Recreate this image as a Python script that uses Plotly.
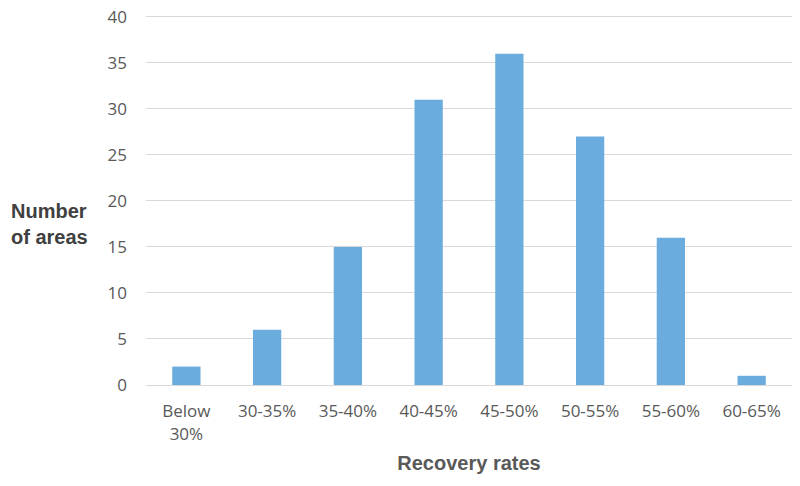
import plotly.graph_objects as go

categories = ["Below<br>30%", "30-35%", "35-40%", "40-45%", "45-50%", "50-55%", "55-60%", "60-65%"]
values = [2, 6, 15, 31, 36, 27, 16, 1]
y_ticks = [0, 5, 10, 15, 20, 25, 30, 35, 40]

fig = go.Figure(go.Bar(x=categories, y=values, marker=dict(color="#6aacdd", line=dict(width=0))))

fig.update_layout(
    width=800, height=486,
    margin=dict(l=138, r=16, t=7, b=109, autoexpand=False),
    plot_bgcolor="white", paper_bgcolor="white",
    bargap=0.65,
    showlegend=False,
    font=dict(family="Open Sans", size=17, color="#595959"),
    xaxis=dict(
        showgrid=False, showline=True, linecolor="#d9d9d9", linewidth=1,
        ticks="", ticklabelstandoff=11, automargin=False,
        tickfont=dict(family="Open Sans", size=17, color="#595959"),
        title=dict(text="<b>Recovery rates</b>", font=dict(family="Liberation Sans", size=20, color="#595959"), standoff=12),
    ),
    yaxis=dict(
        range=[0, 40.2], tickvals=y_ticks, showgrid=True, gridcolor="#d9d9d9", gridwidth=1,
        zeroline=False, ticks="", ticklabelstandoff=18, automargin=False,
        ticklabeloverflow="allow",
        tickfont=dict(family="Open Sans", size=17, color="#595959"),
    ),
    annotations=[dict(
        text="<b>Number<br>of areas</b>", xref="paper", yref="paper",
        x=-0.15, y=0.435, xanchor="center", yanchor="middle", showarrow=False, align="left",
        font=dict(family="Liberation Sans", size=20, color="#404040"),
    )],
)

fig.write_html("out.html")
